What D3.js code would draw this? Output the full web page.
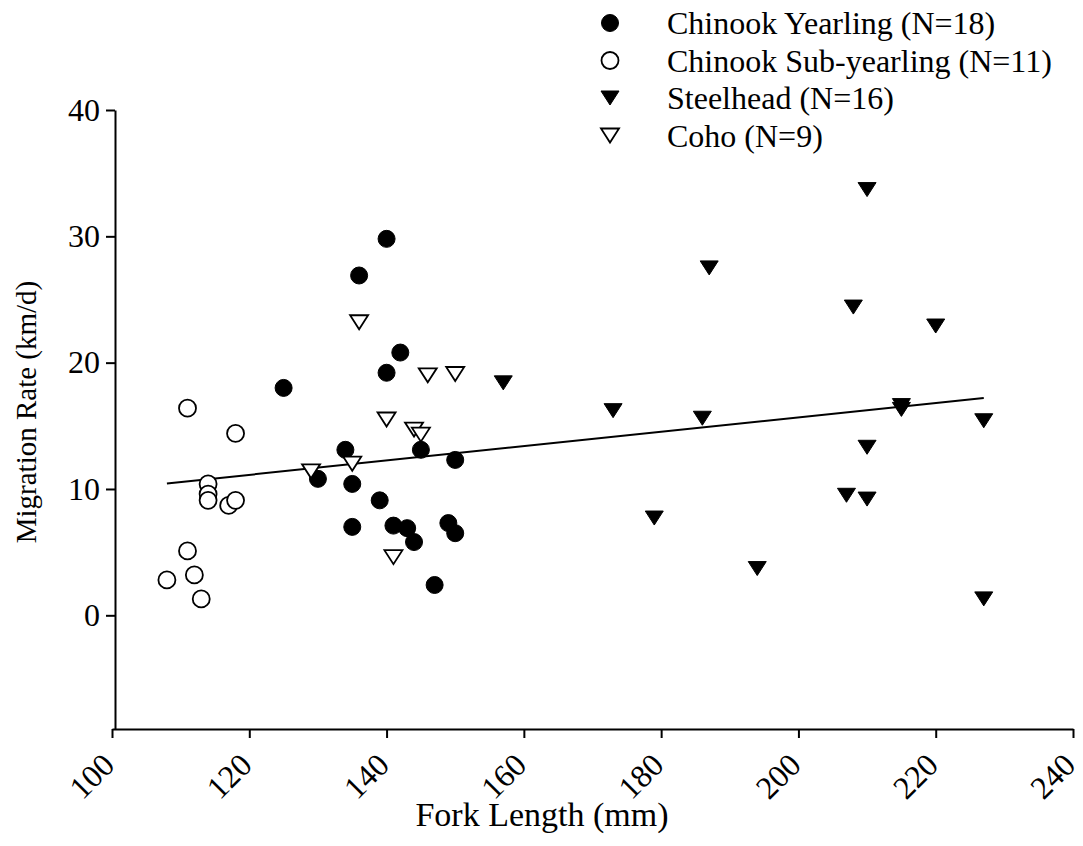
<!DOCTYPE html>
<html>
  <head>
    <meta charset="UTF-8">
    <title>Migration Rate vs Fork Length</title>
    <style>
      * { margin: 0; padding: 0; overflow: hidden; }
      body { background: #fff; }
      text { font-family: "Liberation Serif", "Times New Roman", serif; fill: #000; }
    </style>
    <script src="https://d3js.org/d3.v7.min.js"></script>
  </head>
  <body>
    <script type="text/javascript">
      // series: fork length (mm) / migration rate (km/d)
      const yearlingX = [125, 136, 140, 142, 140, 134, 130, 135, 145, 150, 139, 135, 141, 143, 144, 149, 150, 147];
      const yearlingY = [18.0, 26.9, 29.8, 20.8, 19.2, 13.1, 10.8, 10.4, 13.1, 12.3, 9.1, 7.0, 7.1, 6.9, 5.8, 7.3, 6.5, 2.4];
      const subX = [111, 118, 114, 114, 114, 117, 118, 111, 112, 108, 113];
      const subY = [16.4, 14.4, 10.4, 9.6, 9.1, 8.7, 9.1, 5.1, 3.2, 2.8, 1.3];
      const steelX = [157, 173, 186, 179, 194, 210, 208, 220, 215, 215, 227, 210, 207, 210, 227, 187];
      const steelY = [18.4, 16.2, 15.6, 7.7, 3.7, 33.7, 24.4, 22.9, 16.6, 16.3, 15.4, 13.3, 9.5, 9.2, 1.3, 27.5];
      const cohoX = [136, 146, 150, 140, 144, 145, 135, 129, 141];
      const cohoY = [23.2, 19.0, 19.1, 15.5, 14.7, 14.3, 12.0, 11.4, 4.6];

      const seriesNames = ["Chinook Yearling (N=18)", "Chinook Sub-yearling (N=11)", "Steelhead (N=16)", "Coho (N=9)"];
      const xTicks = [100, 120, 140, 160, 180, 200, 220, 240];
      const yTicks = [0, 10, 20, 30, 40];

      const WIDTH = 1083, HEIGHT = 846;
      const FS = 32;
      const svg = d3.select("body").append("svg")
        .attr("width", WIDTH)
        .attr("height", HEIGHT);

      const x = d3.scaleLinear().domain([100, 240]).range([112, 1073]);
      const y = d3.scaleLinear().domain([-9, 40]).range([729, 110]);

      // axes
      const xAxis = svg.append("g")
        .attr("transform", "translate(0,729)")
        .call(d3.axisBottom(x).tickValues(xTicks).tickSize(9).tickSizeOuter(0));
      xAxis.select(".domain").attr("stroke-width", 2);
      xAxis.selectAll(".tick line").attr("stroke-width", 2);
      xAxis.selectAll(".tick text")
        .attr("font-size", FS)
        .attr("font-family", "Liberation Serif")
        .attr("text-anchor", "end")
        .attr("x", 0).attr("y", 0)
        .attr("dy", "0.35em")
        .attr("transform", "translate(-4,30) rotate(-45)");

      const yAxis = svg.append("g")
        .attr("transform", "translate(115,0)")
        .call(d3.axisLeft(y).tickValues(yTicks).tickSize(9).tickSizeOuter(0).tickPadding(6));
      yAxis.select(".domain").attr("stroke-width", 2);
      yAxis.selectAll(".tick line").attr("stroke-width", 2);
      yAxis.selectAll(".tick text")
        .attr("font-size", FS)
        .attr("font-family", "Liberation Serif");

      svg.append("text")
        .attr("x", 542).attr("y", 826)
        .attr("text-anchor", "middle")
        .attr("font-size", 34)
        .text("Fork Length (mm)");

      svg.append("text")
        .attr("transform", "translate(36,412) rotate(-90)")
        .attr("text-anchor", "middle")
        .attr("font-size", 29)
        .text("Migration Rate (km/d)");

      // regression over all fish
      const allX = [...yearlingX, ...subX, ...steelX, ...cohoX];
      const allY = [...yearlingY, ...subY, ...steelY, ...cohoY];
      const mx = d3.mean(allX), my = d3.mean(allY);
      const slope = d3.sum(allX, (v, i) => (v - mx) * (allY[i] - my)) / d3.sum(allX, (v) => (v - mx) * (v - mx));
      const icpt = my - slope * mx;
      const [x0, x1] = d3.extent(allX);
      svg.append("line")
        .attr("x1", x(x0)).attr("y1", y(icpt + slope * x0))
        .attr("x2", x(x1)).attr("y2", y(icpt + slope * x1))
        .attr("stroke", "#000")
        .attr("stroke-width", 2);

      const circle = d3.symbol().type(d3.symbolCircle).size(Math.PI * 8.5 * 8.5);
      const tri = (s) => `M${-s},${-7} L${s},${-7} L0,${7} Z`;

      const styles = [
        { xs: yearlingX, ys: yearlingY, shape: "c", fill: "#000" },
        { xs: subX, ys: subY, shape: "c", fill: "#fff" },
        { xs: steelX, ys: steelY, shape: "t", fill: "#000" },
        { xs: cohoX, ys: cohoY, shape: "t", fill: "#fff" }
      ];

      const drawMarker = (sel, st) => {
        sel.attr("d", st.shape === "c" ? circle() : tri(9))
          .attr("fill", st.fill)
          .attr("stroke", "#000")
          .attr("stroke-width", st.fill === "#fff" ? 1.8 : 1)
          .attr("stroke-linejoin", "miter");
      };

      // draw open ones after filled so they stay visible like the original
      [0, 2, 1, 3].forEach((k) => {
        const st = styles[k];
        svg.append("g").selectAll("path")
          .data(st.xs.map((v, i) => [v, st.ys[i]]))
          .join("path")
          .attr("transform", (d) => `translate(${x(d[0])},${y(d[1])})`)
          .call(drawMarker, st);
      });

      // legend
      const legend = svg.append("g");
      styles.forEach((st, i) => {
        const ly = 23 + i * 37.5;
        legend.append("path")
          .attr("transform", `translate(610,${ly})`)
          .call(drawMarker, st);
        legend.append("text")
          .attr("x", 667).attr("y", ly)
          .attr("dy", "0.35em")
          .attr("font-size", FS)
          .text(seriesNames[i]);
      });
    </script>
  </body>
</html>
